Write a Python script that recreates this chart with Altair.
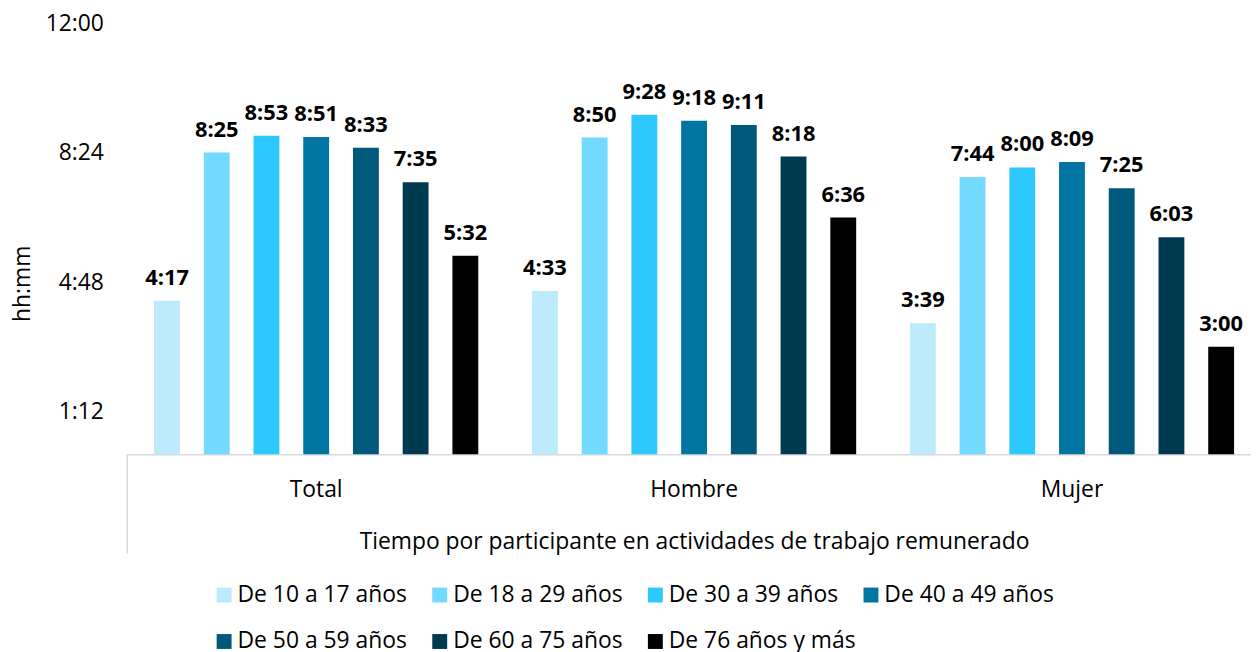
import altair as alt
import pandas as pd

grupos = ["Total", "Hombre", "Mujer"]
edades = [
    "De 10 a 17 años", "De 18 a 29 años", "De 30 a 39 años", "De 40 a 49 años",
    "De 50 a 59 años", "De 60 a 75 años", "De 76 años y más",
]
total = ["4:17", "8:25", "8:53", "8:51", "8:33", "7:35", "5:32"]
hombre = ["4:33", "8:50", "9:28", "9:18", "9:11", "8:18", "6:36"]
mujer = ["3:39", "7:44", "8:00", "8:09", "7:25", "6:03", "3:00"]
colores = ["#BDEBFD", "#73D9FE", "#2DC8FE", "#0075A2", "#00587A", "#003A51", "#000000"]
y_ticks = [72, 288, 504, 720]

FONT = "Open Sans"
FS = 23


def to_min(s):
    h, m = s.split(":")
    return int(h) * 60 + int(m)


rows = []
for g, vals in zip(grupos, [total, hombre, mujer]):
    for e, v in zip(edades, vals):
        rows.append({"grupo": g, "edad": e, "minutos": to_min(v), "etiqueta": v})
df = pd.DataFrame(rows)

label_expr = "floor(datum.value/60) + ':' + (datum.value % 60 < 10 ? '0' : '') + (datum.value % 60)"

base = alt.Chart(df).encode(
    x=alt.X(
        "grupo:N",
        sort=grupos,
        scale=alt.Scale(paddingInner=0, paddingOuter=0),
        axis=alt.Axis(
            title="Tiempo por participante en actividades de trabajo remunerado",
            labelAngle=0,
            ticks=False,
            domainColor="#D9D9D9",
            domainWidth=1.5,
            labelPadding=25,
            labelFontSize=FS,
            labelFont=FONT,
            labelColor="#000000",
            titleFont=FONT,
            titleFontSize=FS,
            titleFontWeight="normal",
            titleColor="#000000",
            titleY=88,
            titleBaseline="middle",
        ),
    ),
    xOffset=alt.XOffset(
        "edad:N", sort=edades, scale=alt.Scale(paddingInner=0.48, paddingOuter=0.54)
    ),
    y=alt.Y(
        "minutos:Q",
        scale=alt.Scale(domain=[0, 720], nice=False, zero=True),
        axis=alt.Axis(
            values=y_ticks,
            labelExpr=label_expr,
            grid=False,
            domain=False,
            ticks=False,
            labelPadding=24,
            labelFontSize=FS,
            labelFont=FONT,
            labelColor="#000000",
            title="hh:mm",
            titleFont=FONT,
            titleFontSize=FS,
            titleFontWeight="normal",
            titleColor="#000000",
            titleX=-105,
            titleY=261,
            titleAngle=-90,
            titleAlign="center",
            titleBaseline="middle",
        ),
    ),
)

bars = base.mark_bar().encode(
    color=alt.Color(
        "edad:N",
        sort=edades,
        scale=alt.Scale(domain=edades, range=colores),
        legend=alt.Legend(
            title=None,
            orient="none",
            legendX=86,
            legendY=563,
            direction="horizontal",
            columns=4,
            gridAlign="all",
            columnPadding=3,
            rowPadding=23,
            symbolType="square",
            symbolSize=225,
            symbolStrokeWidth=0,
            labelOffset=2,
            labelFont=FONT,
            labelFontSize=FS,
            labelColor="#000000",
            labelLimit=400,
        ),
    )
)

labels = base.mark_text(
    dy=-16, baseline="alphabetic", fontWeight="bold", fontSize=22, font=FONT, color="#000000"
).encode(text="etiqueta:N")

rule = (
    alt.Chart(pd.DataFrame({"v": [0]}))
    .mark_rule(color="#D9D9D9", strokeWidth=1.5)
    .encode(x=alt.value(0), y=alt.value(433), y2=alt.value(533))
)

chart = (
    alt.layer(bars, labels, rule)
    .properties(
        width=1141,
        height=433,
        padding={"left": 120, "top": 14, "right": -10, "bottom": 197},
        autosize=alt.AutoSizeParams(type="none"),
    )
    .configure_view(stroke=None)
)

chart.save("out.html", embed_options={"renderer": "svg", "actions": False})
